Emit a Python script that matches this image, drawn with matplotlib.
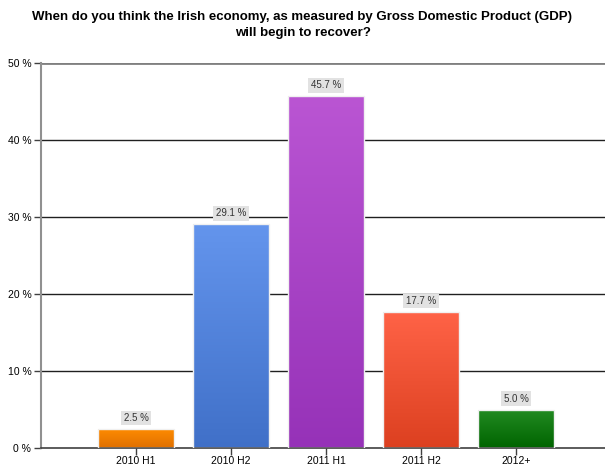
import matplotlib
matplotlib.use("Agg")
import matplotlib.pyplot as plt
import numpy as np
from matplotlib.colors import LinearSegmentedColormap

categories = ["2010 H1", "2010 H2", "2011 H1", "2011 H2", "2012+"]
values = [2.5, 29.1, 45.7, 17.7, 5.0]
top_colors = ["#FF8C00", "#6495ED", "#BA55D3", "#FF6347", "#228B22"]
bottom_colors = ["#E07000", "#4070C8", "#9632B8", "#DC4020", "#006400"]
yticks = [0, 10, 20, 30, 40, 50]
title = "When do you think the Irish economy, as measured by Gross Domestic Product (GDP)\nwill begin to recover?"

plt.rcParams['font.family'] = ['Liberation Sans', 'DejaVu Sans']

fig = plt.figure(figsize=(6.05, 4.66), dpi=100)
ax = fig.add_axes([41/605, 1-448/466, (605-41)/605, (448-63)/466])

xs = np.arange(1, len(categories)+1)
w = 0.79
bars = ax.bar(xs, values, width=w, color="none", edgecolor="#F0F0F0", linewidth=1.0, zorder=3)
grad = np.linspace(0, 1, 256).reshape(-1, 1)
for b, x, v, tc, bc in zip(bars, xs, values, top_colors, bottom_colors):
    cmap = LinearSegmentedColormap.from_list("g", [bc, tc])
    im = ax.imshow(grad, cmap=cmap, origin="lower", aspect="auto",
                   extent=(x-w/2, x+w/2, 0, v), zorder=2)
    im.set_clip_path(b)
    ax.text(x, v+0.75, f"{v:.1f} %", ha="center", va="bottom", fontsize=7, color="#333333",
            bbox=dict(boxstyle="square,pad=0.25", fc="#E2E2E2", ec="none"), zorder=4)

ax.set_xlim(0, (605-41)/95)
ax.set_ylim(0, 50)
ax.set_xticks(xs)
ax.set_xticklabels(categories, fontsize=7.5)
ax.set_yticks(yticks)
ax.set_yticklabels([f"{t} %" for t in yticks], fontsize=7.5)
ax.tick_params(axis="both", length=5, width=1, color="#404040", pad=2)
ax.tick_params(axis="x", length=5, pad=0.5)

for t in yticks[1:-1]:
    ax.axhline(t, color="#202020", linewidth=1.0, zorder=1)
ax.axhline(50, color="#808080", linewidth=2.0, zorder=1)

for s in ["top", "right"]:
    ax.spines[s].set_visible(False)
ax.spines["left"].set_color("#909090")
ax.spines["left"].set_linewidth(1.5)
ax.spines["bottom"].set_color("#404040")
ax.spines["bottom"].set_linewidth(1.2)

fig.text(0.5, 1-25/466, title, ha="center", va="center", fontsize=9.5, fontweight="bold",
         linespacing=1.5)

fig.savefig("out.png", dpi=100)
